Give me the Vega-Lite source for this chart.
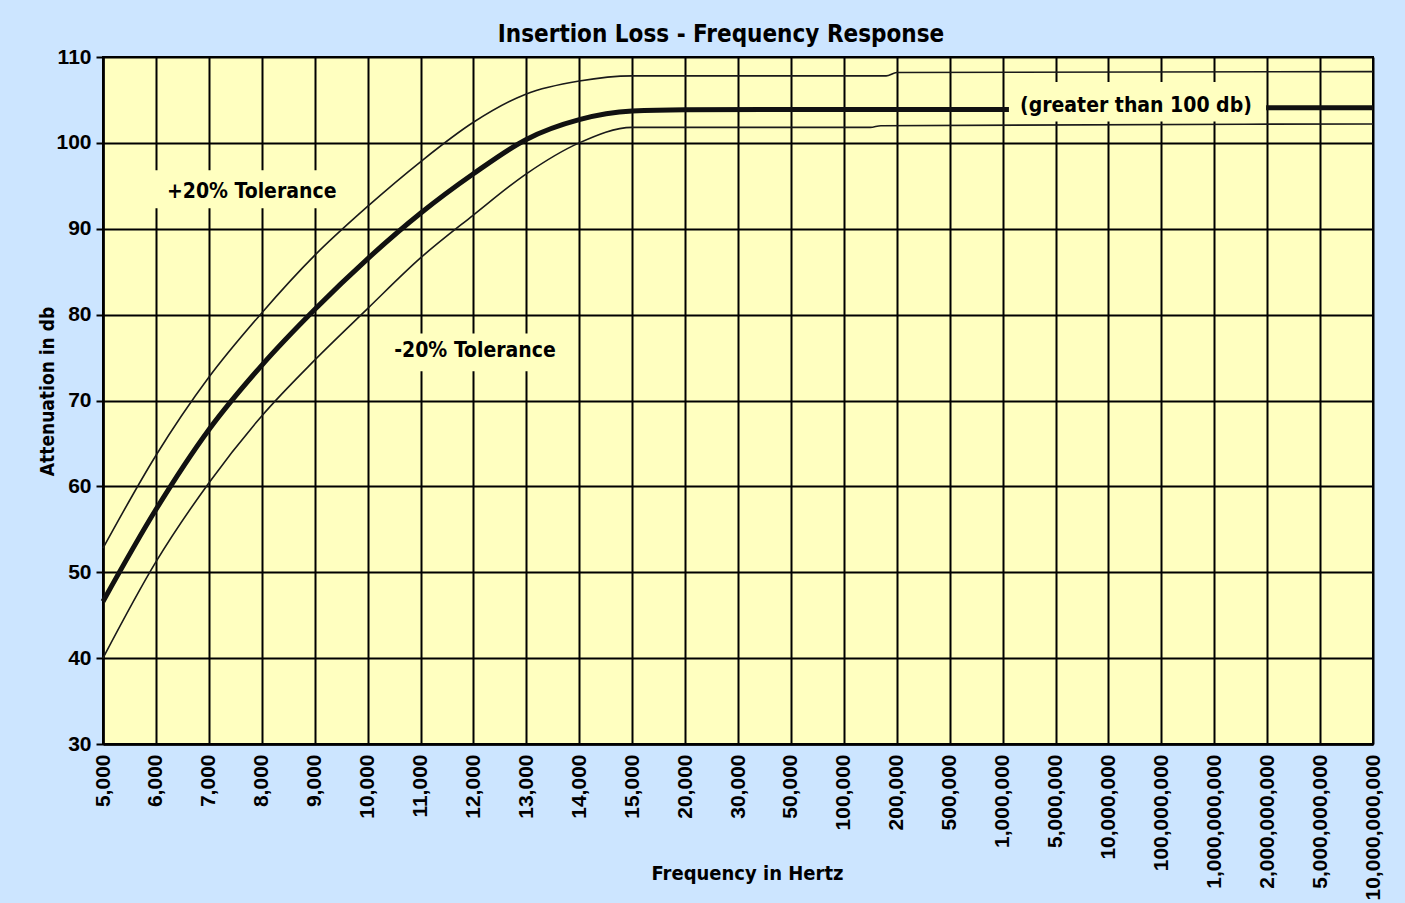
{
  "$schema": "https://vega.github.io/schema/vega-lite/v6.json",
  "width": 1270,
  "height": 687,
  "autosize": {"type": "none"},
  "padding": {"left": 103, "top": 57, "right": 32, "bottom": 159},
  "background": "#cce5ff",
  "config": {
    "view": {"fill": "#ffffc0", "stroke": "#000000", "strokeWidth": 2},
    "font": "DejaVu Sans Condensed, DejaVu Sans, sans-serif",
    "axis": {
      "domainColor": "#000000",
      "domainWidth": 2.5,
      "gridColor": "#000000",
      "gridWidth": 2,
      "gridOpacity": 1,
      "tickColor": "#000000",
      "tickWidth": 2,
      "labelColor": "#000000",
      "labelFont": "Liberation Sans, Arial, sans-serif",
      "labelFontWeight": "bold",
      "titleFont": "DejaVu Sans Condensed, DejaVu Sans, sans-serif",
      "titleFontWeight": "bold",
      "titleColor": "#000000",
      "labelFlush": false,
      "labelOverlap": false,
      "labelBound": false,
      "labelLimit": 0
    }
  },
  "title": {
    "text": "Insertion Loss - Frequency Response",
    "font": "DejaVu Sans Condensed, DejaVu Sans, sans-serif",
    "fontSize": 24,
    "fontWeight": "bold",
    "color": "#000000",
    "anchor": "middle",
    "offset": -1,
    "dx": -17
  },
  "datasets": {
    "curves": [
      {"series": "main", "seg": "a", "idx": 0, "db": 46.6},
      {"series": "main", "seg": "a", "idx": 1, "db": 57.3},
      {"series": "main", "seg": "a", "idx": 2, "db": 66.6},
      {"series": "main", "seg": "a", "idx": 3, "db": 74.1},
      {"series": "main", "seg": "a", "idx": 4, "db": 80.6},
      {"series": "main", "seg": "a", "idx": 5, "db": 86.5},
      {"series": "main", "seg": "a", "idx": 6, "db": 91.8},
      {"series": "main", "seg": "a", "idx": 7, "db": 96.4},
      {"series": "main", "seg": "a", "idx": 8, "db": 100.4},
      {"series": "main", "seg": "a", "idx": 9, "db": 102.7},
      {"series": "main", "seg": "a", "idx": 10, "db": 103.7},
      {"series": "main", "seg": "a", "idx": 11, "db": 103.85},
      {"series": "main", "seg": "a", "idx": 14, "db": 103.9},
      {"series": "main", "seg": "a", "idx": 17.12, "db": 103.9},
      {"series": "main", "seg": "b", "idx": 21.98, "db": 104.1},
      {"series": "main", "seg": "b", "idx": 24, "db": 104.1},
      {"series": "upper", "seg": "u", "idx": 0, "db": 52.8},
      {"series": "upper", "seg": "u", "idx": 1, "db": 63.6},
      {"series": "upper", "seg": "u", "idx": 2, "db": 72.7},
      {"series": "upper", "seg": "u", "idx": 3, "db": 80.2},
      {"series": "upper", "seg": "u", "idx": 4, "db": 86.9},
      {"series": "upper", "seg": "u", "idx": 5, "db": 92.6},
      {"series": "upper", "seg": "u", "idx": 6, "db": 97.8},
      {"series": "upper", "seg": "u", "idx": 7, "db": 102.4},
      {"series": "upper", "seg": "u", "idx": 8, "db": 105.7},
      {"series": "upper", "seg": "u", "idx": 9, "db": 107.2},
      {"series": "upper", "seg": "u", "idx": 10, "db": 107.8},
      {"series": "upper", "seg": "u", "idx": 14.8, "db": 107.8},
      {"series": "upper", "seg": "u", "idx": 15.0, "db": 108.2},
      {"series": "upper", "seg": "u", "idx": 24, "db": 108.3},
      {"series": "lower", "seg": "l", "idx": 0, "db": 40.0},
      {"series": "lower", "seg": "l", "idx": 1, "db": 51.2},
      {"series": "lower", "seg": "l", "idx": 2, "db": 60.4},
      {"series": "lower", "seg": "l", "idx": 3, "db": 68.2},
      {"series": "lower", "seg": "l", "idx": 4, "db": 74.7},
      {"series": "lower", "seg": "l", "idx": 5, "db": 80.7},
      {"series": "lower", "seg": "l", "idx": 6, "db": 86.6},
      {"series": "lower", "seg": "l", "idx": 7, "db": 91.6},
      {"series": "lower", "seg": "l", "idx": 8, "db": 96.4},
      {"series": "lower", "seg": "l", "idx": 9, "db": 100.0},
      {"series": "lower", "seg": "l", "idx": 10, "db": 101.8},
      {"series": "lower", "seg": "l", "idx": 14.5, "db": 101.8},
      {"series": "lower", "seg": "l", "idx": 14.7, "db": 102.0},
      {"series": "lower", "seg": "l", "idx": 24, "db": 102.2}
    ],
    "boxes": [
      {"idx": 0.95, "idx2": 4.55, "db": 92.4, "db2": 96.8},
      {"idx": 5.3, "idx2": 8.75, "db": 73.4, "db2": 77.8},
      {"idx": 17.12, "idx2": 21.96, "db": 102.5, "db2": 107.1}
    ],
    "notes": [
      {"label": "+20% Tolerance", "idx": 2.81, "db": 94.3},
      {"label": "-20% Tolerance", "idx": 7.03, "db": 75.8},
      {"label": "(greater than 100 db)", "idx": 19.52, "db": 104.3}
    ]
  },
  "encoding": {
    "x": {
      "field": "idx",
      "type": "quantitative",
      "scale": {"domain": [0, 24], "nice": false, "zero": false},
      "axis": {
        "values": [0, 1, 2, 3, 4, 5, 6, 7, 8, 9, 10, 11, 12, 13, 14, 15, 16, 17, 18, 19, 20, 21, 22, 23, 24],
        "labelExpr": "['5,000','6,000','7,000','8,000','9,000','10,000','11,000','12,000','13,000','14,000','15,000','20,000','30,000','50,000','100,000','200,000','500,000','1,000,000','5,000,000','10,000,000','100,000,000','1,000,000,000','2,000,000,000','5,000,000,000','10,000,000,000'][datum.value]",
        "labelAngle": -90,
        "labelAlign": "right",
        "labelBaseline": "middle",
        "labelFontSize": 21,
        "labelPadding": 10,
        "ticks": false,
        "grid": true,
        "title": "Frequency in Hertz",
        "titleFontSize": 20,
        "titleX": 644,
        "titleY": 135,
        "titleAlign": "center",
        "titleBaseline": "alphabetic"
      }
    },
    "y": {
      "field": "db",
      "type": "quantitative",
      "scale": {"domain": [30, 110], "nice": false, "zero": false},
      "axis": {
        "values": [30, 40, 50, 60, 70, 80, 90, 100, 110],
        "labelFontSize": 21,
        "labelPadding": 5,
        "ticks": true,
        "tickSize": 7,
        "grid": true,
        "title": "Attenuation in db",
        "titleFontSize": 19,
        "titleX": -56,
        "titleY": 334,
        "titleAngle": -90,
        "titleAlign": "center",
        "titleBaseline": "middle"
      }
    }
  },
  "layer": [
    {
      "data": {"name": "boxes"},
      "mark": {"type": "rect", "fill": "#ffffc0", "stroke": null},
      "encoding": {
        "x2": {"field": "idx2"},
        "y2": {"field": "db2"}
      }
    },
    {
      "data": {"name": "curves"},
      "transform": [{"filter": "datum.series !== 'main'"}],
      "mark": {"type": "line", "color": "#1a1a1a", "strokeWidth": 1.6, "interpolate": "monotone"},
      "encoding": {"detail": {"field": "seg"}}
    },
    {
      "data": {"name": "curves"},
      "transform": [{"filter": "datum.series === 'main'"}],
      "mark": {"type": "line", "color": "#111111", "strokeWidth": 5, "interpolate": "monotone", "strokeCap": "butt"},
      "encoding": {"detail": {"field": "seg"}}
    },
    {
      "data": {"name": "notes"},
      "mark": {"type": "text", "fontSize": 21, "fontWeight": "bold", "color": "#000000", "align": "center", "baseline": "middle", "font": "DejaVu Sans Condensed, DejaVu Sans, sans-serif"},
      "encoding": {"text": {"field": "label"}}
    }
  ]
}
